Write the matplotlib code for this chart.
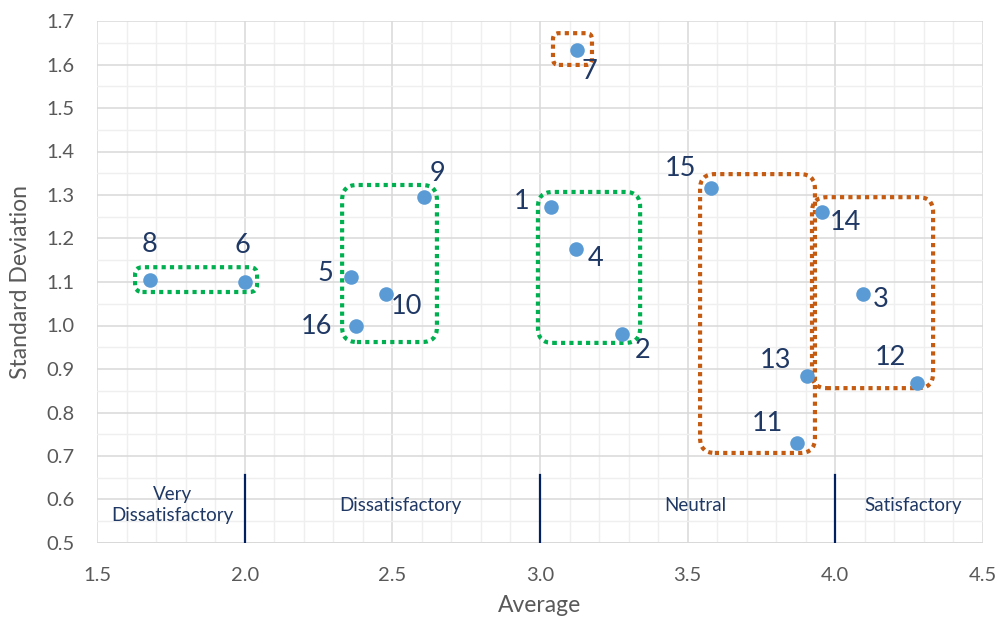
import matplotlib.pyplot as plt
from matplotlib.patches import FancyBboxPatch
from matplotlib.ticker import MultipleLocator
import numpy as np

plt.rcParams['font.family'] = ['Lato', 'DejaVu Sans']

# data
ids = ['8', '6', '5', '10', '16', '9', '1', '4', '2', '7', '15', '14', '3', '13', '12', '11']
avg = [1.679, 2.0, 2.359, 2.478, 2.376, 2.607, 3.037, 3.122, 3.277, 3.124, 3.579, 3.954, 4.093, 3.903, 4.278, 3.869]
sd = [1.105, 1.101, 1.111, 1.072, 1.0, 1.296, 1.272, 1.175, 0.980, 1.633, 1.315, 1.262, 1.072, 0.885, 0.867, 0.731]
# label offsets in pixels
offs = [(0, 35), (-2, 36), (-25, 4), (21, -12), (-39, -1), (14, 23), (-29, 6), (20, -9), (21, -16),
        (13, -21), (-31, 20), (24, -11), (18, -5), (-31, 15), (-27, 26), (-29, 19)]

# groups: x0, x1, y0, y1, colour, rounding
groups = [
    (1.629, 2.042, 1.077, 1.134, '#00b050', 0.025),
    (2.330, 2.651, 0.962, 1.323, '#00b050', 0.05),
    (2.993, 3.339, 0.960, 1.307, '#00b050', 0.05),
    (3.044, 3.176, 1.599, 1.672, '#c55a11', 0.02),
    (3.542, 3.931, 0.707, 1.348, '#c55a11', 0.05),
    (3.921, 4.331, 0.856, 1.295, '#c55a11', 0.05),
]

region_names = ['Very\nDissatisfactory', 'Dissatisfactory', 'Neutral', 'Satisfactory']
region_x = [1.755, 2.526, 3.525, 4.263]
bounds = [2.0, 3.0, 4.0]

fig = plt.figure(figsize=(10.05, 6.19), dpi=100)
ax = fig.add_axes([97 / 1005, (619 - 543) / 619, (983 - 97) / 1005, (543 - 21) / 619])
ax.set_xlim(1.5, 4.5)
ax.set_ylim(0.5, 1.7)
ax.xaxis.set_major_locator(MultipleLocator(0.5))
ax.xaxis.set_minor_locator(MultipleLocator(0.1))
ax.yaxis.set_major_locator(MultipleLocator(0.1))
ax.yaxis.set_minor_locator(MultipleLocator(0.05))
ax.grid(which='major', color='#d9d9d9', lw=1.1, zorder=0)
ax.grid(which='minor', color='#efefef', lw=1.0, zorder=0)
ax.set_axisbelow(True)
for s in ax.spines.values():
    s.set_visible(False)
ax.tick_params(which='both', length=0, labelsize=14.5, labelcolor='#595959')
ax.tick_params(axis='x', pad=17)
ax.tick_params(axis='y', pad=16)
ax.xaxis.set_major_formatter(lambda v, p: f'{v:.1f}')
ax.yaxis.set_major_formatter(lambda v, p: f'{v:.1f}')
ax.axhline(0.5, color='#d9d9d9', lw=1.3, zorder=1)
ax.set_xlabel('Average', fontsize=16.5, color='#595959', va='center')
ax.set_ylabel('Standard Deviation', fontsize=16.5, color='#595959', va='center')
ax.xaxis.set_label_coords(0.5, (543 - 605) / 522)
ax.yaxis.set_label_coords((20 - 97) / 886, 0.5)

aspect = (1.2 / 522) / (3.0 / 886)
for x0, x1, y0, y1, c, r in groups:
    p = FancyBboxPatch((x0, y0), x1 - x0, y1 - y0,
                       boxstyle=f'round,pad=0,rounding_size={r}', mutation_aspect=aspect,
                       fill=False, edgecolor=c, lw=3, linestyle=(0, (1, 1)), zorder=2)
    ax.add_patch(p)

ax.scatter(avg, sd, s=110, color='#5b9bd5', zorder=3, linewidths=0)
for i, t in enumerate(ids):
    ax.annotate(t, (avg[i], sd[i]), xytext=offs[i], textcoords='offset pixels',
                ha='center', va='center', fontsize=19.5, color='#1f3864', zorder=4)

for b in bounds:
    ax.plot([b, b], [0.5, 0.656], color='#002060', lw=1.6, zorder=3)
for name, x in zip(region_names, region_x):
    ax.text(x, 0.587, name, ha='center', va='center', fontsize=13.5, color='#1f3864',
            linespacing=1.3, zorder=4)

fig.savefig('out.png', dpi=100, facecolor='white')
